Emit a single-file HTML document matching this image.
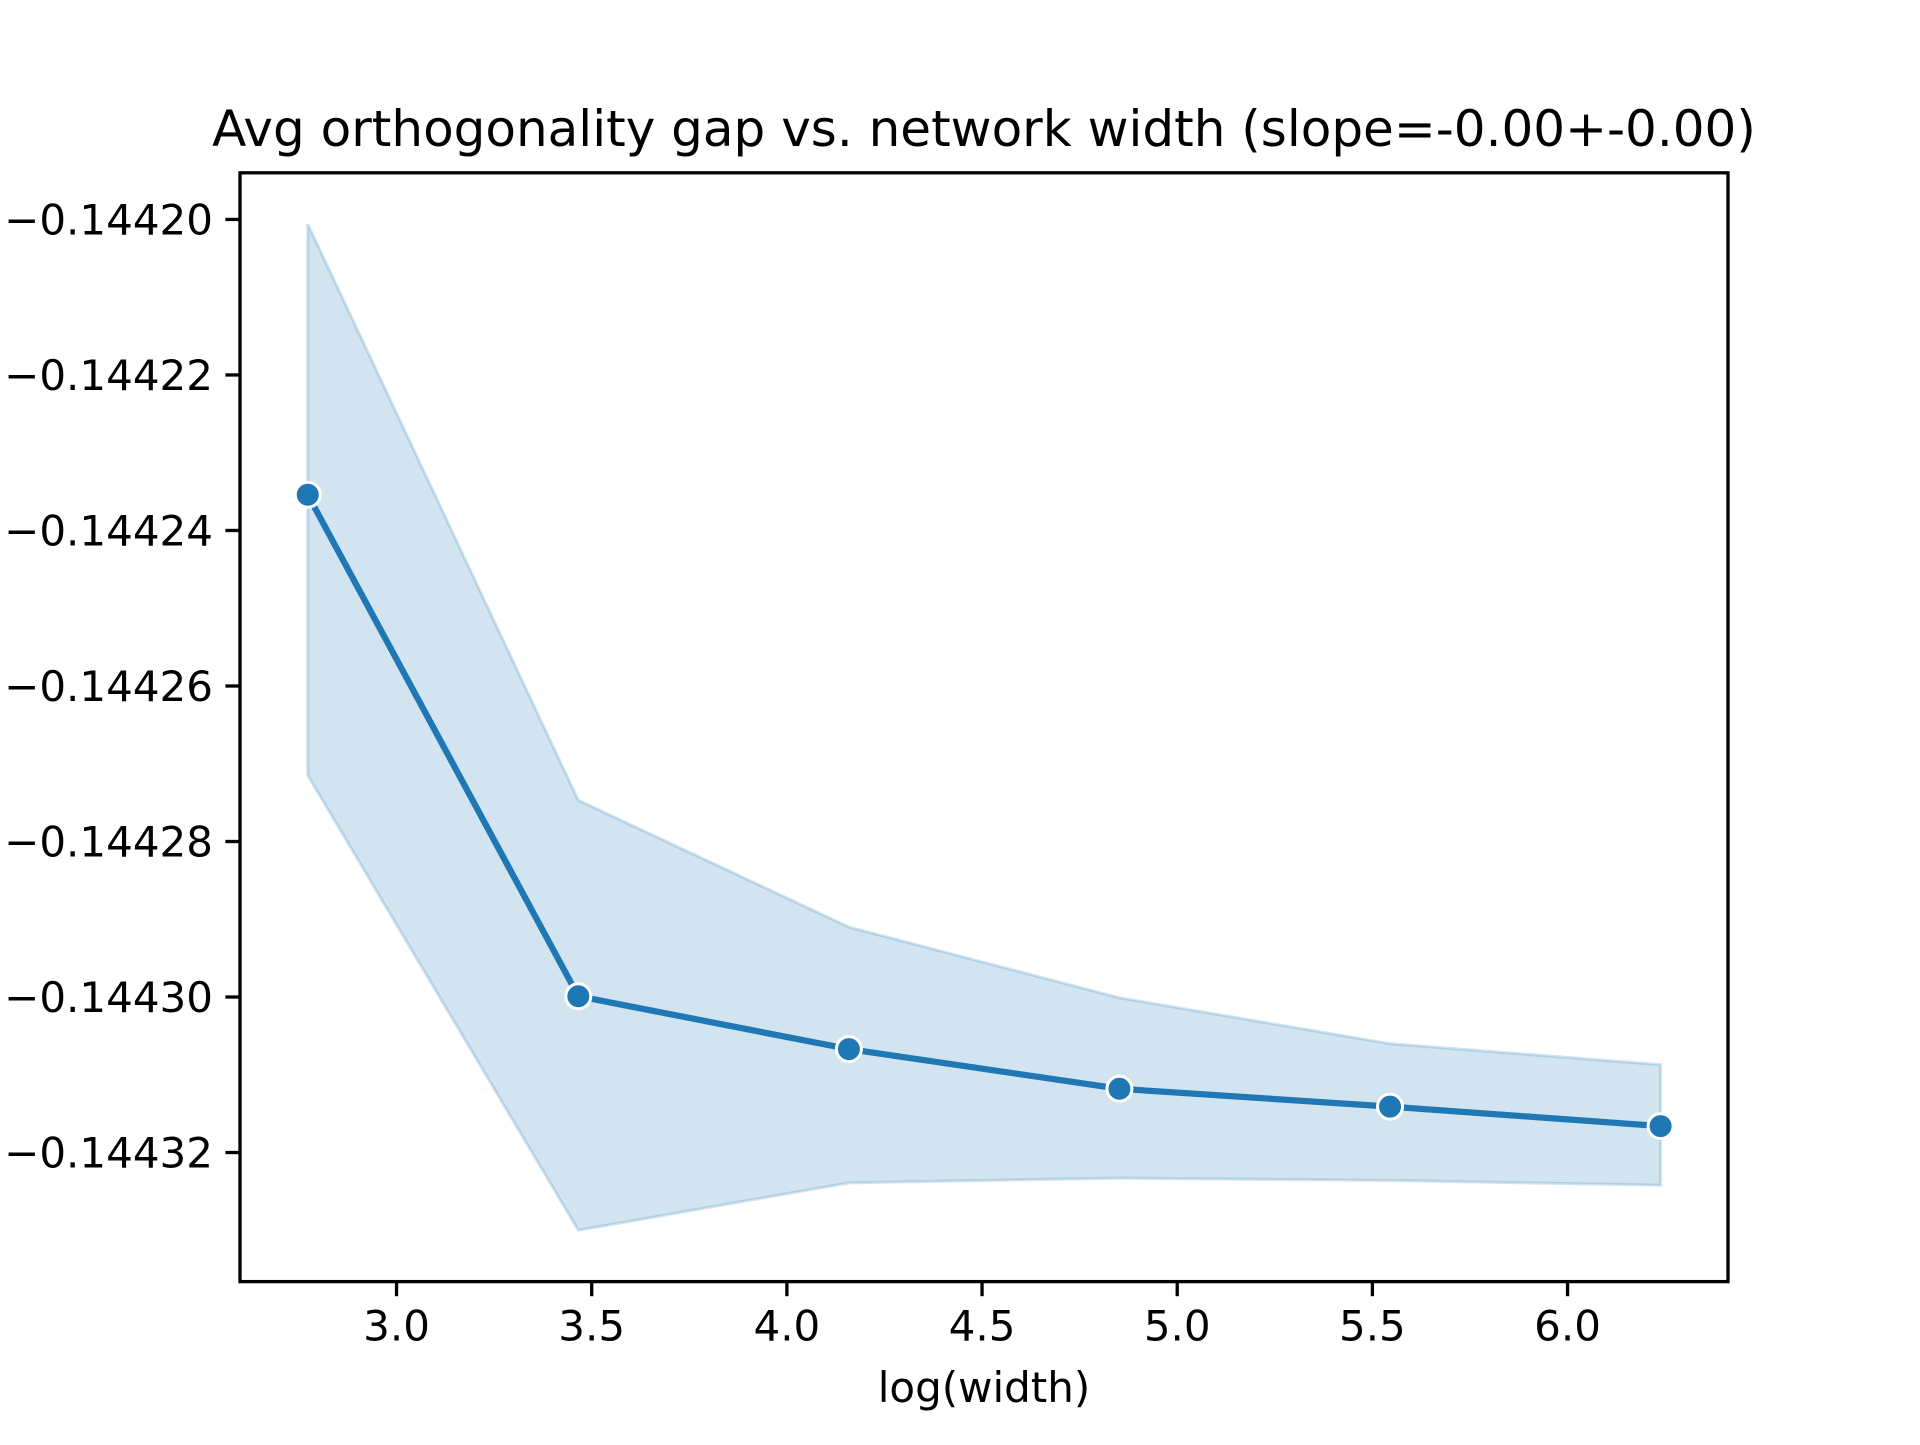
<!DOCTYPE html>
<html><head><meta charset="utf-8"><style>body{margin:0;background:#fff}svg text{font-family:"DejaVu Sans","Liberation Sans",sans-serif}</style></head>
<body>
<svg id="chart" width="1920" height="1440" viewBox="0 0 1920 1440" xmlns="http://www.w3.org/2000/svg">
<rect width="1920" height="1440" fill="#fff"/>
<text x="984" y="146" font-size="50" text-anchor="middle">Avg orthogonality gap vs. network width (slope=-0.00+-0.00)</text>
<g id="plot"></g>
<rect x="240" y="172.8" width="1488" height="1108.8" fill="none" stroke="#000" stroke-width="3.3"/>
<text x="984" y="1402" font-size="42" text-anchor="middle">log(width)</text>
</svg>
<script>
const xs = [2.7726, 3.4657, 4.1589, 4.8520, 5.5452, 6.2383];
const means = [-0.1442354, -0.1442999, -0.1443067, -0.1443118, -0.1443141, -0.1443166];
const upper = [-0.1442006, -0.1442747, -0.144291, -0.1443001, -0.144306, -0.1443087];
const lower = [-0.1442715, -0.14433, -0.1443239, -0.1443233, -0.1443236, -0.1443242];
const xTicks = [3.0, 3.5, 4.0, 4.5, 5.0, 5.5, 6.0];
const xTickLabels = ["3.0","3.5","4.0","4.5","5.0","5.5","6.0"];
const yTicks = [-0.14420, -0.14422, -0.14424, -0.14426, -0.14428, -0.14430, -0.14432];
const yTickLabels = ["\u22120.14420","\u22120.14422","\u22120.14424","\u22120.14426","\u22120.14428","\u22120.14430","\u22120.14432"];

const L=240,R=1728,T=172.8,B=1281.6;
const x0=2.599,x1=6.411,y0=-0.1443366,y1=-0.144194;
const sx=v=>L+(v-x0)/(x1-x0)*(R-L);
const sy=v=>B-(v-y0)/(y1-y0)*(B-T);
const NS="http://www.w3.org/2000/svg";
const g=document.getElementById('plot');
function mk(t,a){const e=document.createElementNS(NS,t);for(const k in a)e.setAttribute(k,a[k]);g.appendChild(e);return e;}

let pts=xs.map((x,i)=>sx(x)+','+sy(upper[i]));
for(let i=xs.length-1;i>=0;i--)pts.push(sx(xs[i])+','+sy(lower[i]));
const band=mk('polygon',{points:pts.join(' '),fill:'rgba(31,119,180,0.2)',stroke:'rgba(31,119,180,0.2)','stroke-width':3});



const line=mk('polyline',{points:xs.map((x,i)=>sx(x)+','+sy(means[i])).join(' '),fill:'none',stroke:'#1f77b4','stroke-width':6.25,'stroke-linejoin':'round','stroke-linecap':'square'});



xs.forEach((x,i)=>{
  const c=mk('circle',{cx:sx(x),cy:sy(means[i]),r:12.5,fill:'#1f77b4',stroke:'#fff','stroke-width':3});
  
  
});

xTicks.forEach((v,i)=>{
  const X=sx(v);
  const t=mk('line',{x1:X,x2:X,y1:B,y2:B+14.6,stroke:'#000','stroke-width':3.3});
  
  
  const l=mk('text',{x:X,y:B+59,'font-size':42,'text-anchor':'middle'});
  l.textContent=xTickLabels[i];
  
  
});
yTicks.forEach((v,i)=>{
  const Y=sy(v);
  const t=mk('line',{x1:L-14.6,x2:L,y1:Y,y2:Y,stroke:'#000','stroke-width':3.3});
  
  
  const l=mk('text',{x:L-27,y:Y+15,'font-size':42,'text-anchor':'end'});
  l.textContent=yTickLabels[i];
  
  
});
</script>
</body></html>
